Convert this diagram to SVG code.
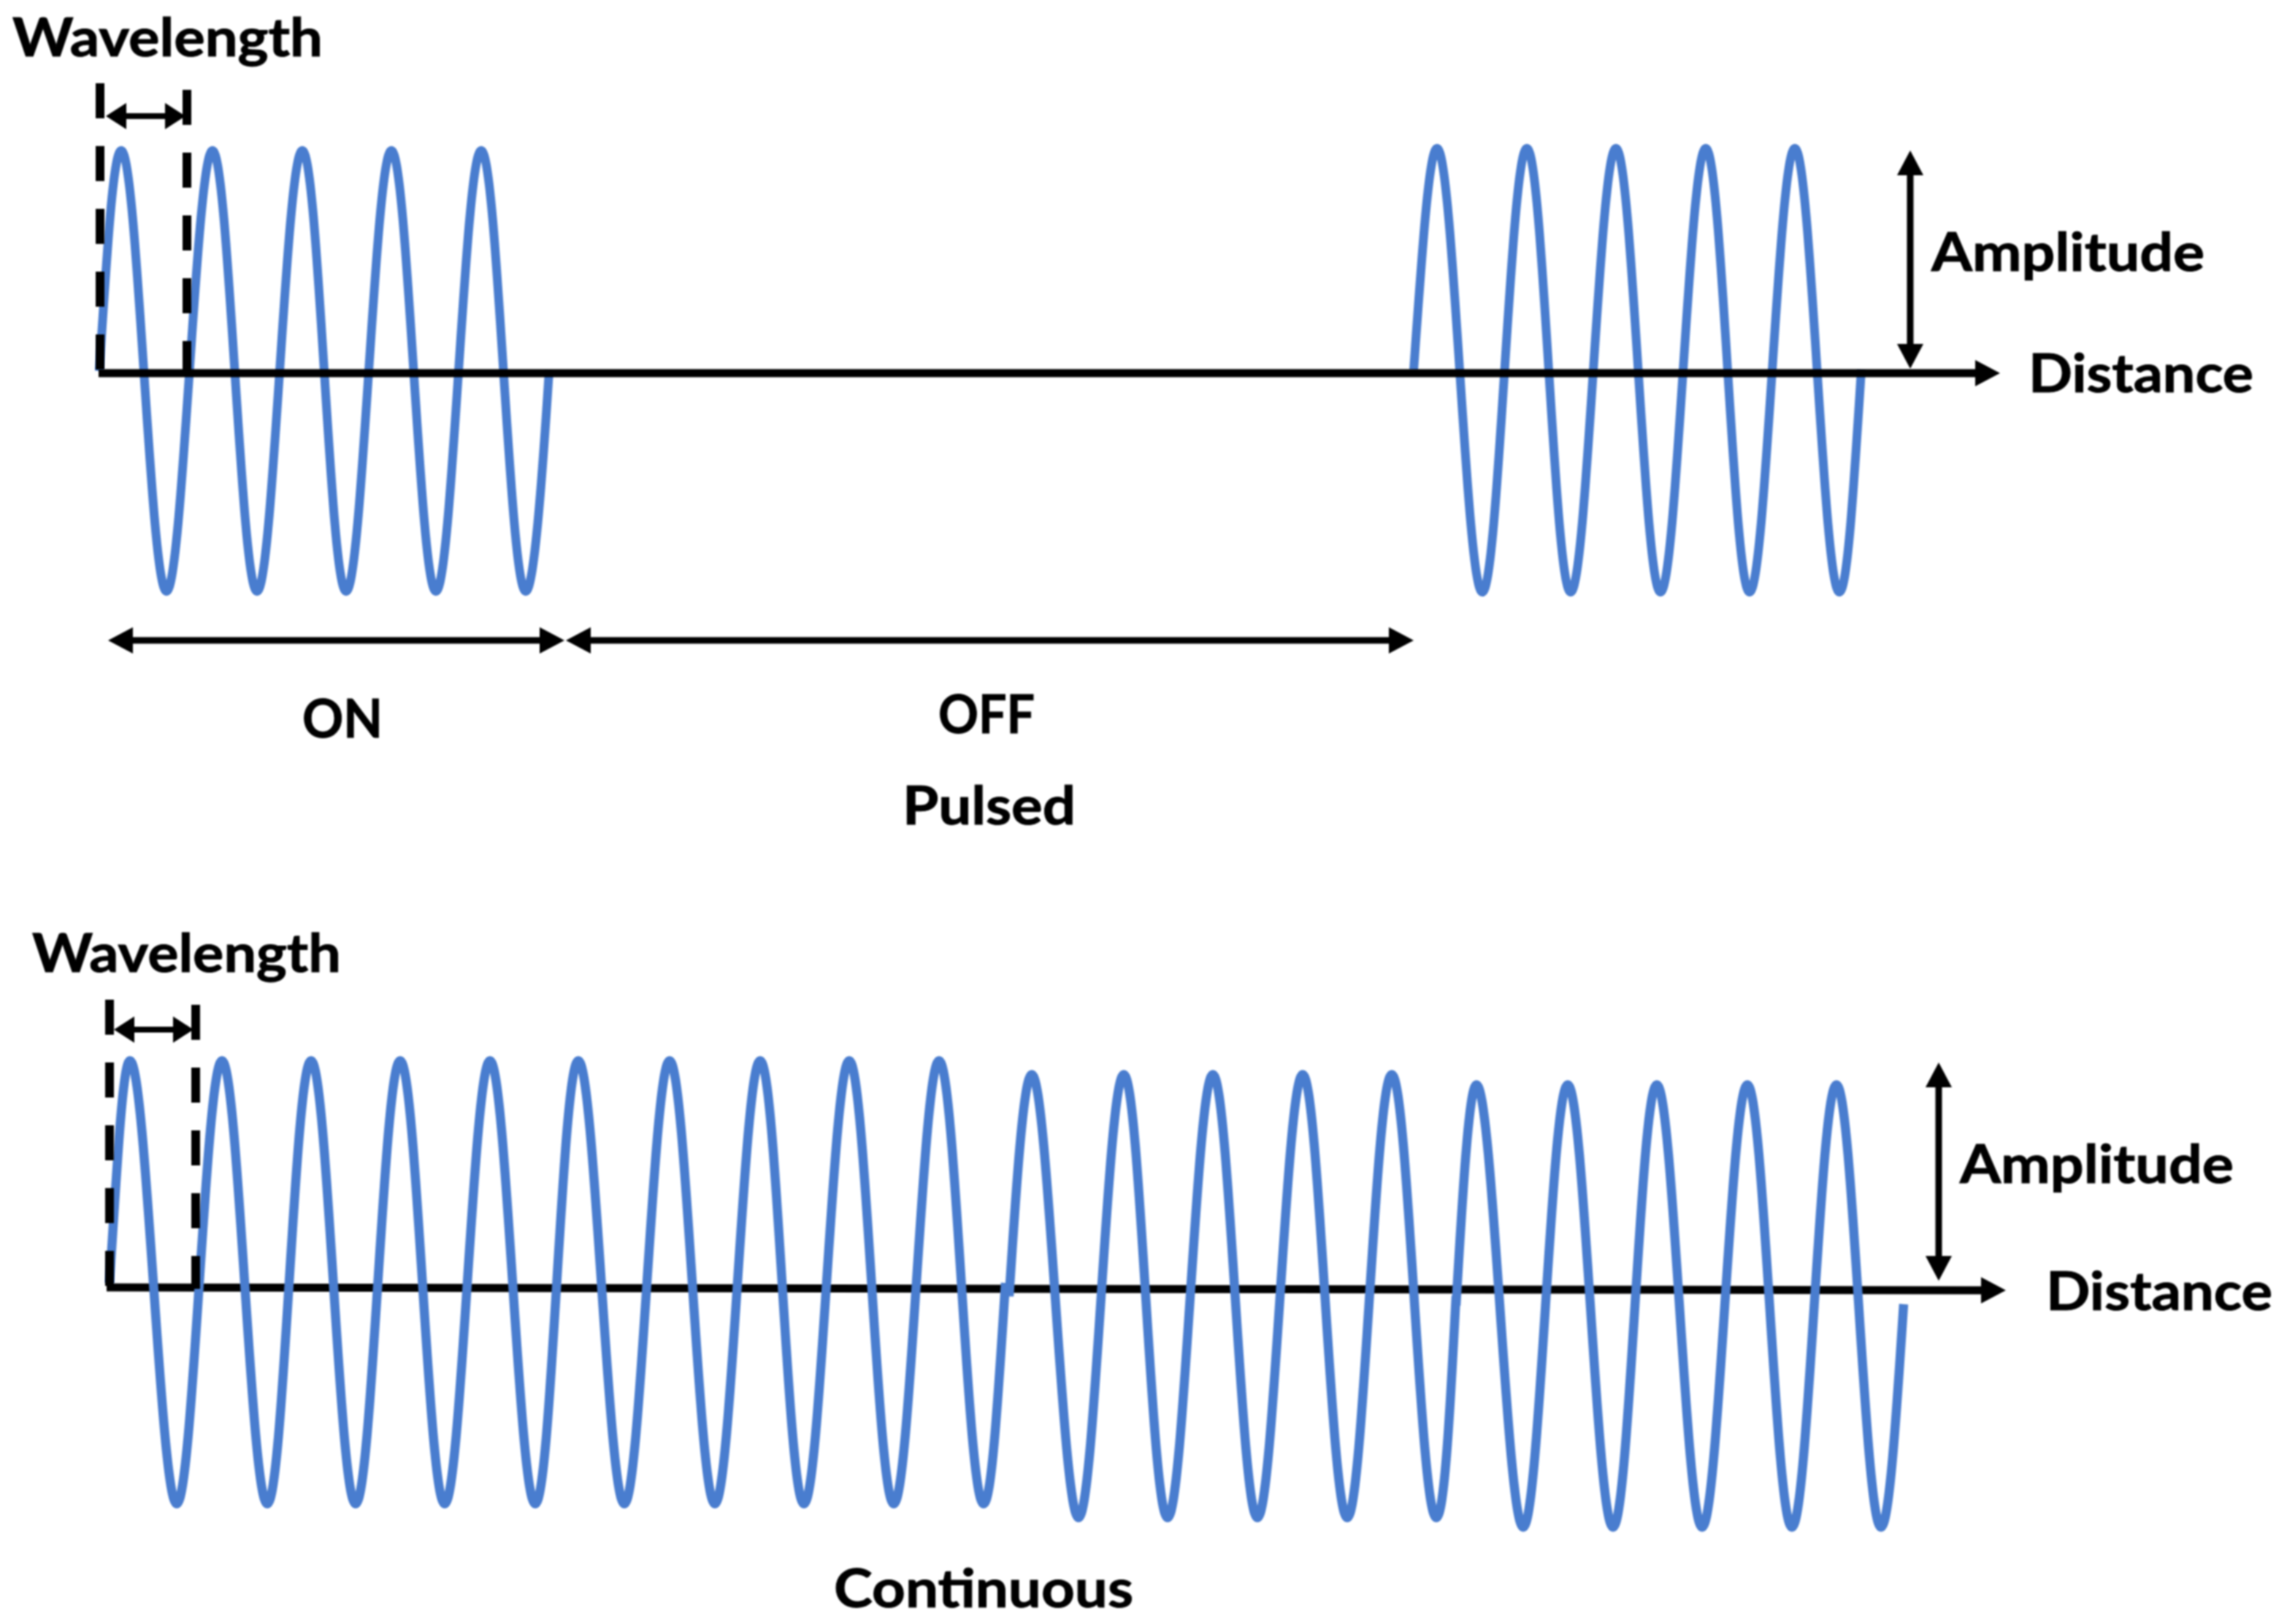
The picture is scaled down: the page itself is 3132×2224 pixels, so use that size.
<svg xmlns="http://www.w3.org/2000/svg" width="3132" height="2224" viewBox="0 0 3132 2224">
<style>
.wave{fill:none;stroke:#4a7dcf;stroke-linecap:butt;stroke-linejoin:round}
.axis{fill:none;stroke:#000;stroke-width:11}
.dash{fill:none;stroke:#000;stroke-width:12;stroke-dasharray:48 38}
.dim{fill:none;stroke:#000;stroke-width:9;marker-start:url(#head);marker-end:url(#head)}
.dim-s{fill:none;stroke:#000;stroke-width:8;marker-start:url(#head-s);marker-end:url(#head-s)}
.lbl{font-family:"Lato","Liberation Sans",sans-serif;font-weight:700;font-size:72px;fill:#000;stroke:#000;stroke-width:1}
.soft{filter:url(#soft)}
</style>
<defs>
<filter id="soft" filterUnits="userSpaceOnUse" x="0" y="0" width="3132" height="2224"><feGaussianBlur stdDeviation="0.9"/></filter>
<marker id="head" markerUnits="userSpaceOnUse" markerWidth="36" markerHeight="40" refX="1" refY="20" orient="auto-start-reverse" viewBox="0 0 36 40"><path d="M0 2L34 20L0 38Z" fill="#000"/></marker>
<marker id="head-s" markerUnits="userSpaceOnUse" markerWidth="30" markerHeight="40" refX="1" refY="20" orient="auto-start-reverse" viewBox="0 0 30 40"><path d="M0 2L28 20L0 38Z" fill="#000"/></marker>
</defs>
<rect width="3132" height="2224" fill="#fff"/>
<g id="waves-pulsed" class="soft">
<path id="wave-pulsed-1" class="wave" stroke-width="12" d="M136 508C146 353 155 206 166 206C188 206 206 810 228 810C250 810 269 206 291 206C313 206 330 810 352 810C374 810 392 206 414 206C436 206 452 810 474 810C496 810 514 206 536 206C558 206 575 810 597 810C619 810 637 206 659 206C681 206 698 810 720 810C731 810 742 663 752 508"/>
<path id="wave-pulsed-2" class="wave" stroke-width="12" d="M1936 507C1947 352 1957 203 1968 203C1990 203 2008 811 2030 811C2052 811 2069 203 2091 203C2113 203 2129 811 2151 811C2173 811 2191 203 2213 203C2235 203 2252 811 2274 811C2296 811 2314 203 2336 203C2358 203 2374 811 2396 811C2418 811 2436 203 2458 203C2480 203 2497 811 2519 811C2530 811 2539 662 2549 507"/>
</g>
<g id="axis-pulsed-group" class="soft">
<line id="axis-pulsed" class="axis" x1="135" y1="511" x2="2706" y2="511" marker-end="url(#head)"/>
</g>
<g id="axis-continuous-group" class="soft">
<line id="axis-continuous" class="axis" x1="146" y1="1763" x2="2714" y2="1767" marker-end="url(#head)"/>
</g>
<g id="waves-continuous" class="soft">
<path id="wave-continuous" class="wave" stroke-width="12.500" d="M150 1757C160 1602 168 1452.500 178 1452.500C200 1452.500 220 2059.500 242 2059.500C264 2059.500 282 1452.500 304 1452.500C326 1452.500 344 2059.500 366 2059.500C388 2059.500 404 1452.500 426 1452.500C448 1452.500 465 2059.500 487 2059.500C509 2059.500 526 1452.500 548 1452.500C570 1452.500 587 2059.500 609 2059.500C631 2059.500 649 1452.500 671 1452.500C693 1452.500 711 2059.500 733 2059.500C755 2059.500 770 1452.500 792 1452.500C814 1452.500 833 2059.500 855 2059.500C877 2059.500 895 1452.500 917 1452.500C939 1452.500 957 2059.500 979 2059.500C1001 2059.500 1019 1452.500 1041 1452.500C1063 1452.500 1079 2059.500 1101 2059.500C1123 2059.500 1141 1452.500 1163 1452.500C1185 1452.500 1202 2059.500 1224 2059.500C1246 2059.500 1264 1452.500 1286 1452.500C1308 1452.500 1325 2059.500 1347 2059.500C1358 2059.500 1367 1912 1377 1757M1382 1775C1392 1620 1402 1471.500 1413 1471.500C1435 1471.500 1455 2078.500 1477 2078.500C1499 2078.500 1517 1471.500 1539 1471.500C1561 1471.500 1577 2078.500 1599 2078.500C1621 2078.500 1639 1471.500 1661 1471.500C1683 1471.500 1700 2078.500 1722 2078.500C1744 2078.500 1762 1471.500 1784 1471.500C1806 1471.500 1823 2078.500 1845 2078.500C1867 2078.500 1884 1471.500 1906 1471.500C1928 1471.500 1945 2078.500 1967 2078.500C1978 2078.500 1986 1930 1994 1775M1994 1788C2003 1634 2012 1485.500 2022 1485.500C2044 1485.500 2064 2091.500 2086 2091.500C2108 2091.500 2125 1485.500 2147 1485.500C2169 1485.500 2187 2091.500 2209 2091.500C2231 2091.500 2247 1485.500 2269 1485.500C2291 1485.500 2309 2091.500 2331 2091.500C2353 2091.500 2371 1485.500 2393 1485.500C2415 1485.500 2432 2091.500 2454 2091.500C2476 2091.500 2493 1485.500 2515 1485.500C2537 1485.500 2554 2091.500 2576 2091.500C2587 2091.500 2597 1940 2607 1786"/>
</g>
<g id="connectors" class="soft">
<line class="dash" x1="137" y1="114" x2="137" y2="512"/>
<line class="dash" x1="256" y1="123" x2="256" y2="512"/>
<line class="dash" x1="150" y1="1369" x2="150" y2="1767"/>
<line class="dash" x1="268" y1="1376" x2="268" y2="1765"/>
<line class="dim-s" x1="172" y1="159" x2="227" y2="159"/>
<line class="dim-s" x1="183" y1="1410" x2="238" y2="1410"/>
<line class="dim" x1="181" y1="877" x2="740" y2="877"/>
<line class="dim" x1="808" y1="877" x2="1903" y2="877"/>
<line class="dim" x1="2616" y1="239" x2="2616" y2="472"/>
<line class="dim" x1="2655" y1="1488" x2="2655" y2="1721"/>
</g>
<g id="labels" class="soft">
<text class="lbl" x="17" y="77" textLength="425" lengthAdjust="spacingAndGlyphs">Wavelength</text>
<text class="lbl" x="44" y="1331" textLength="423" lengthAdjust="spacingAndGlyphs">Wavelength</text>
<text class="lbl" x="2645" y="371" textLength="374" lengthAdjust="spacingAndGlyphs">Amplitude</text>
<text class="lbl" x="2778" y="537" textLength="308" lengthAdjust="spacingAndGlyphs">Distance</text>
<text class="lbl" x="2684" y="1620" textLength="375" lengthAdjust="spacingAndGlyphs">Amplitude</text>
<text class="lbl" x="2802" y="1794" textLength="310" lengthAdjust="spacingAndGlyphs">Distance</text>
<text class="lbl" x="414" y="1010" textLength="110" lengthAdjust="spacingAndGlyphs">ON</text>
<text class="lbl" x="1285" y="1004" textLength="132" lengthAdjust="spacingAndGlyphs">OFF</text>
<text class="lbl" x="1236" y="1129" textLength="237" lengthAdjust="spacingAndGlyphs">Pulsed</text>
<text class="lbl" x="1142" y="2201" textLength="410" lengthAdjust="spacingAndGlyphs">Continuous</text>
</g>
</svg>
